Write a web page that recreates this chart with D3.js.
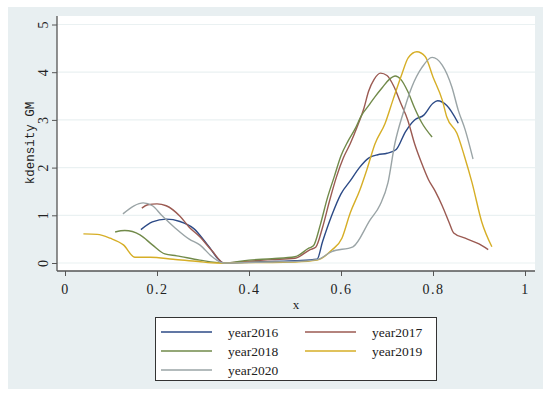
<!DOCTYPE html>
<html><head><meta charset="utf-8">
<script src="https://cdn.jsdelivr.net/npm/d3@7"></script>
<style>body{margin:0;background:#fff}svg{display:block}</style>
</head><body>
<svg id="c" width="550" height="399"></svg>
<script>
const seriesNames = ["year2016","year2017","year2018","year2019","year2020"];
const colors = ["#2c4a86","#9b5a52","#718a4a","#d6ae26","#9aa4a6"];
const xTicks = [0,0.2,0.4,0.6,0.8,1];
const xTickLabels = ["0","0.2","0.4","0.6","0.8","1"];
const yTicks = [0,1,2,3,4,5];
const yTickLabels = ["0","1","2","3","4","5"];

const y2016 = [[0.165,0.7],[0.19,0.86],[0.22,0.92],[0.25,0.87],[0.28,0.72],[0.31,0.38],[0.345,0],[0.4,0.02],[0.45,0.03],[0.5,0.05],[0.548,0.08],[0.56,0.45],[0.58,1.0],[0.6,1.45],[0.62,1.72],[0.64,2.0],[0.66,2.2],[0.68,2.27],[0.7,2.3],[0.72,2.38],[0.74,2.75],[0.76,3.0],[0.78,3.1],[0.8,3.35],[0.81,3.4],[0.83,3.3],[0.855,2.93]];
const y2017 = [[0.167,1.15],[0.18,1.22],[0.2,1.24],[0.22,1.2],[0.25,0.98],[0.27,0.75],[0.293,0.55],[0.32,0.25],[0.346,0],[0.4,0.04],[0.45,0.07],[0.5,0.1],[0.533,0.28],[0.545,0.33],[0.56,0.75],[0.575,1.3],[0.59,1.8],[0.605,2.2],[0.62,2.5],[0.635,2.85],[0.65,3.25],[0.66,3.6],[0.672,3.85],[0.686,3.98],[0.70,3.93],[0.715,3.7],[0.73,3.35],[0.745,3.0],[0.76,2.5],[0.775,2.1],[0.79,1.75],[0.805,1.5],[0.82,1.2],[0.835,0.85],[0.845,0.63],[0.87,0.52],[0.9,0.4],[0.92,0.28]];
const y2018 = [[0.109,0.65],[0.13,0.68],[0.163,0.59],[0.19,0.38],[0.217,0.19],[0.243,0.15],[0.293,0.06],[0.345,0],[0.4,0.06],[0.45,0.09],[0.5,0.13],[0.53,0.31],[0.54,0.36],[0.555,0.8],[0.57,1.35],[0.585,1.8],[0.6,2.25],[0.615,2.55],[0.63,2.8],[0.645,3.1],[0.66,3.3],[0.675,3.5],[0.69,3.68],[0.705,3.85],[0.718,3.92],[0.73,3.85],[0.745,3.6],[0.76,3.25],[0.775,2.95],[0.798,2.64]];
const y2019 = [[0.04,0.61],[0.07,0.6],[0.098,0.52],[0.127,0.38],[0.152,0.12],[0.185,0.12],[0.235,0.08],[0.29,0.03],[0.33,0],[0.4,0.01],[0.45,0.01],[0.5,0.02],[0.548,0.06],[0.58,0.27],[0.602,0.52],[0.62,1.05],[0.641,1.53],[0.656,1.95],[0.674,2.5],[0.696,2.93],[0.713,3.42],[0.733,3.98],[0.746,4.3],[0.765,4.43],[0.783,4.33],[0.8,3.9],[0.82,3.42],[0.83,3.06],[0.852,2.72],[0.868,2.25],[0.885,1.68],[0.906,0.86],[0.928,0.34]];
const y2020 = [[0.126,1.03],[0.15,1.2],[0.17,1.26],[0.19,1.2],[0.21,1.0],[0.24,0.73],[0.27,0.5],[0.293,0.38],[0.32,0.13],[0.345,0],[0.4,0.01],[0.45,0.02],[0.5,0.03],[0.548,0.07],[0.58,0.24],[0.626,0.34],[0.663,0.9],[0.685,1.22],[0.702,1.68],[0.717,2.5],[0.735,3.14],[0.754,3.69],[0.776,4.1],[0.798,4.31],[0.82,4.15],[0.841,3.69],[0.855,3.2],[0.87,2.79],[0.887,2.18]];
const seriesData = [y2016,y2017,y2018,y2019,y2020];

const svg = d3.select("#c");
const bg = "#e8eff1";
svg.append("rect").attr("x",8).attr("y",7).attr("width",535).attr("height",382).attr("fill",bg);
const plot = {l:57,t:16,r:535,b:271};
svg.append("rect").attr("x",plot.l).attr("y",plot.t).attr("width",plot.r-plot.l).attr("height",plot.b-plot.t).attr("fill","#fff");

const x = d3.scaleLinear().domain([0,1]).range([65,525]);
const y = d3.scaleLinear().domain([0,5]).range([263,24.5]);

// gridlines
svg.append("g").selectAll("line").data(yTicks).join("line")
  .attr("x1",plot.l).attr("x2",plot.r).attr("y1",d=>y(d)).attr("y2",d=>y(d))
  .attr("stroke","#eaf1f2").attr("stroke-width",1.2);

const fontTick = "'Liberation Serif', serif";
// x axis
const xa = svg.append("g").attr("transform",`translate(0,${plot.b})`)
  .call(d3.axisBottom(x).tickValues(xTicks).tickFormat((d,i)=>xTickLabels[i]).tickSize(5).tickSizeOuter(0));
xa.select(".domain").remove();
svg.append("line").attr("x1",plot.l).attr("x2",plot.r).attr("y1",plot.b).attr("y2",plot.b).attr("stroke","#555").attr("stroke-width",1.3);
xa.selectAll(".tick line").attr("stroke","#555");
xa.selectAll(".tick text").attr("font-family",fontTick).attr("font-size",14).attr("fill","#222").attr("dy","1.1em").attr("letter-spacing","1.5px");

// y axis
const ya = svg.append("g").attr("transform",`translate(${plot.l},0)`)
  .call(d3.axisLeft(y).tickValues(yTicks).tickFormat((d,i)=>yTickLabels[i]).tickSize(5).tickSizeOuter(0));
ya.select(".domain").remove();
svg.append("line").attr("x1",plot.l).attr("x2",plot.l).attr("y1",plot.t).attr("y2",plot.b).attr("stroke","#555").attr("stroke-width",1.3);
ya.selectAll(".tick line").attr("stroke","#555");
ya.selectAll(".tick text").attr("font-family",fontTick).attr("font-size",14).attr("fill","#222")
  .attr("x",0).attr("dy",0).attr("text-anchor","middle")
  .attr("transform","translate(-9,0) rotate(-90)");

// titles
svg.append("text").attr("x",296).attr("y",309).attr("text-anchor","middle")
  .attr("font-family",fontTick).attr("font-size",13).attr("fill","#222").text("x");
svg.append("text").attr("transform","translate(34,143) rotate(-90)").attr("text-anchor","middle")
  .attr("font-family","'Liberation Mono', monospace").attr("font-size",12.5).attr("fill","#222").text("kdensity GM");

// lines
const line = d3.line().x(d=>x(d[0])).y(d=>y(d[1])).curve(d3.curveMonotoneX);
svg.append("g").selectAll("path").data(seriesData).join("path")
  .attr("d",line).attr("fill","none").attr("stroke",(d,i)=>colors[i]).attr("stroke-width",1.4);

// legend
const lg = svg.append("g");
lg.append("rect").attr("x",155.5).attr("y",317.5).attr("width",281).attr("height",63).attr("fill","#fff").attr("stroke","#333").attr("stroke-width",1);
const rowsY = [332,351,370];
seriesNames.forEach((n,i)=>{
  const col = i%2, row = Math.floor(i/2);
  const lx = col===0?161:305, tx = col===0?228:372;
  lg.append("line").attr("x1",lx).attr("x2",lx+51).attr("y1",rowsY[row]).attr("y2",rowsY[row]).attr("stroke",colors[i]).attr("stroke-width",1.6);
  lg.append("text").attr("x",tx).attr("y",rowsY[row]+4.5).attr("font-family",fontTick).attr("font-size",13.5).attr("fill","#222").text(n);
});
</script>
</body></html>
